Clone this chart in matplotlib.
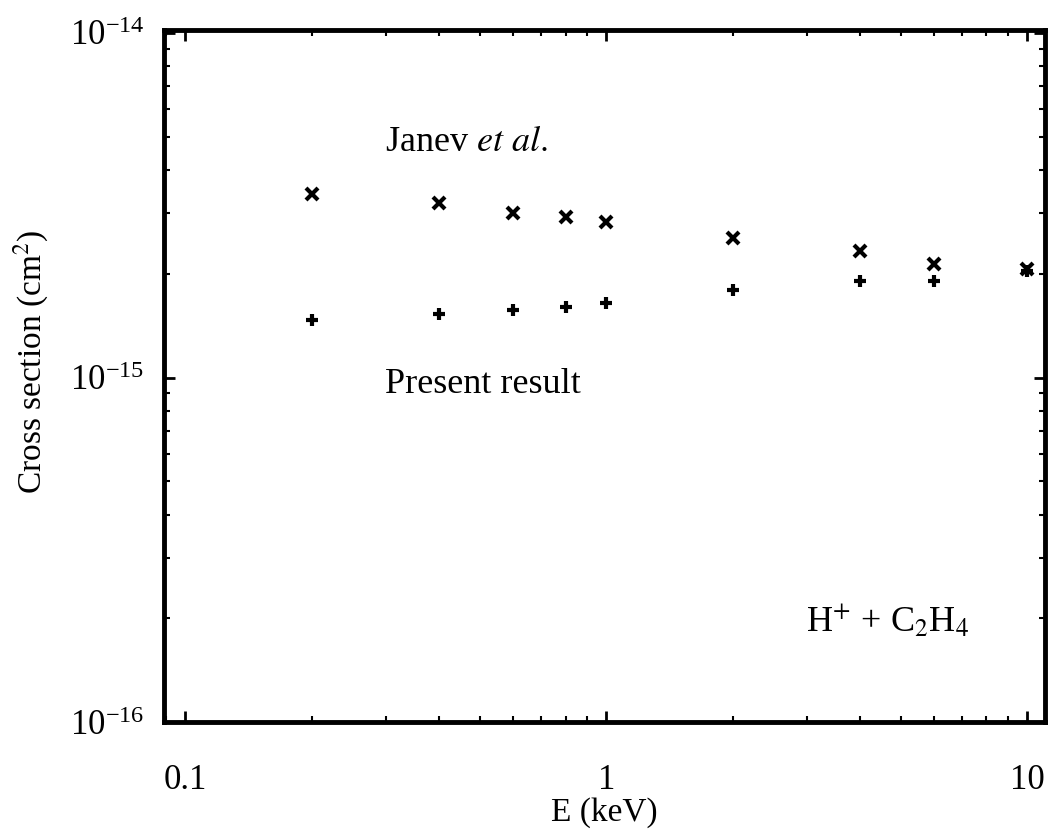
import matplotlib

matplotlib.use("Agg")
import matplotlib.pyplot as plt
from matplotlib.ticker import (LogLocator, NullFormatter, FixedLocator,
                               FixedFormatter, LogFormatterSciNotation)

# energies (keV) and cross sections (cm^2)
energy = [0.2, 0.4, 0.6, 0.8, 1.0, 2.0, 4.0, 6.0, 10.0]
janev = [3.42e-15, 3.22e-15, 3.01e-15, 2.93e-15, 2.83e-15, 2.54e-15, 2.33e-15, 2.14e-15, 2.06e-15]
present = [1.47e-15, 1.53e-15, 1.57e-15, 1.60e-15, 1.65e-15, 1.80e-15, 1.90e-15, 1.91e-15, 2.04e-15]

x_ticks = [0.1, 1, 10]
x_tick_labels = ["0.1", "1", "10"]
y_ticks = [1e-16, 1e-15, 1e-14]

plt.rcParams["font.family"] = ["Liberation Serif", "DejaVu Serif"]
plt.rcParams["mathtext.fontset"] = "stix"
plt.rcParams["font.size"] = 24

fig = plt.figure(figsize=(10.52, 8.32), dpi=100)
ax = fig.add_axes([0.156, 0.132, 0.837, 0.832])

ax.plot(energy, janev, linestyle="none", marker="x", markersize=9,
        markeredgewidth=3, color="black")
ax.plot(energy, present, linestyle="none", marker="+", markersize=8.5,
        markeredgewidth=3, color="black")

ax.set_xscale("log")
ax.set_yscale("log")
ax.set_xlim(0.089, 11.0)
ax.set_ylim(1e-16, 1.02e-14)

ax.xaxis.set_major_locator(FixedLocator(x_ticks))
ax.xaxis.set_major_formatter(FixedFormatter(x_tick_labels))
ax.xaxis.set_minor_locator(LogLocator(base=10, subs=range(2, 10)))
ax.xaxis.set_minor_formatter(NullFormatter())
ax.yaxis.set_major_locator(FixedLocator(y_ticks))
ax.yaxis.set_major_formatter(LogFormatterSciNotation())
ax.yaxis.set_minor_locator(LogLocator(base=10, subs=range(2, 10), numticks=10))
ax.yaxis.set_minor_formatter(NullFormatter())

ax.tick_params(which="both", direction="in", top=True, right=True, color="black")
ax.tick_params(which="major", length=8, width=2, labelsize=25)
ax.tick_params(axis="x", which="major", pad=30)
ax.tick_params(axis="y", which="major", pad=14)
ax.tick_params(which="minor", length=4, width=1.5)
for spine in ax.spines.values():
    spine.set_linewidth(3.5)

ax.set_xlabel("E (keV)", fontsize=24, labelpad=0)
ax.set_ylabel("Cross section (cm$^2$)", fontsize=24)
ax.yaxis.set_label_coords(-0.128, 0.52)

ax.text(0.2985, 4.55e-15, "Janev $\\it{et\\ al.}$", fontsize=26, va="baseline", ha="left")
ax.text(0.2985, 0.9e-15, "Present result", fontsize=26, va="baseline", ha="left")
ax.text(2.98, 1.83e-16, "H$^{+}$ + C$_2$H$_4$", fontsize=26, va="baseline", ha="left")

fig.savefig("out.png", dpi=100)
plt.close("all")
